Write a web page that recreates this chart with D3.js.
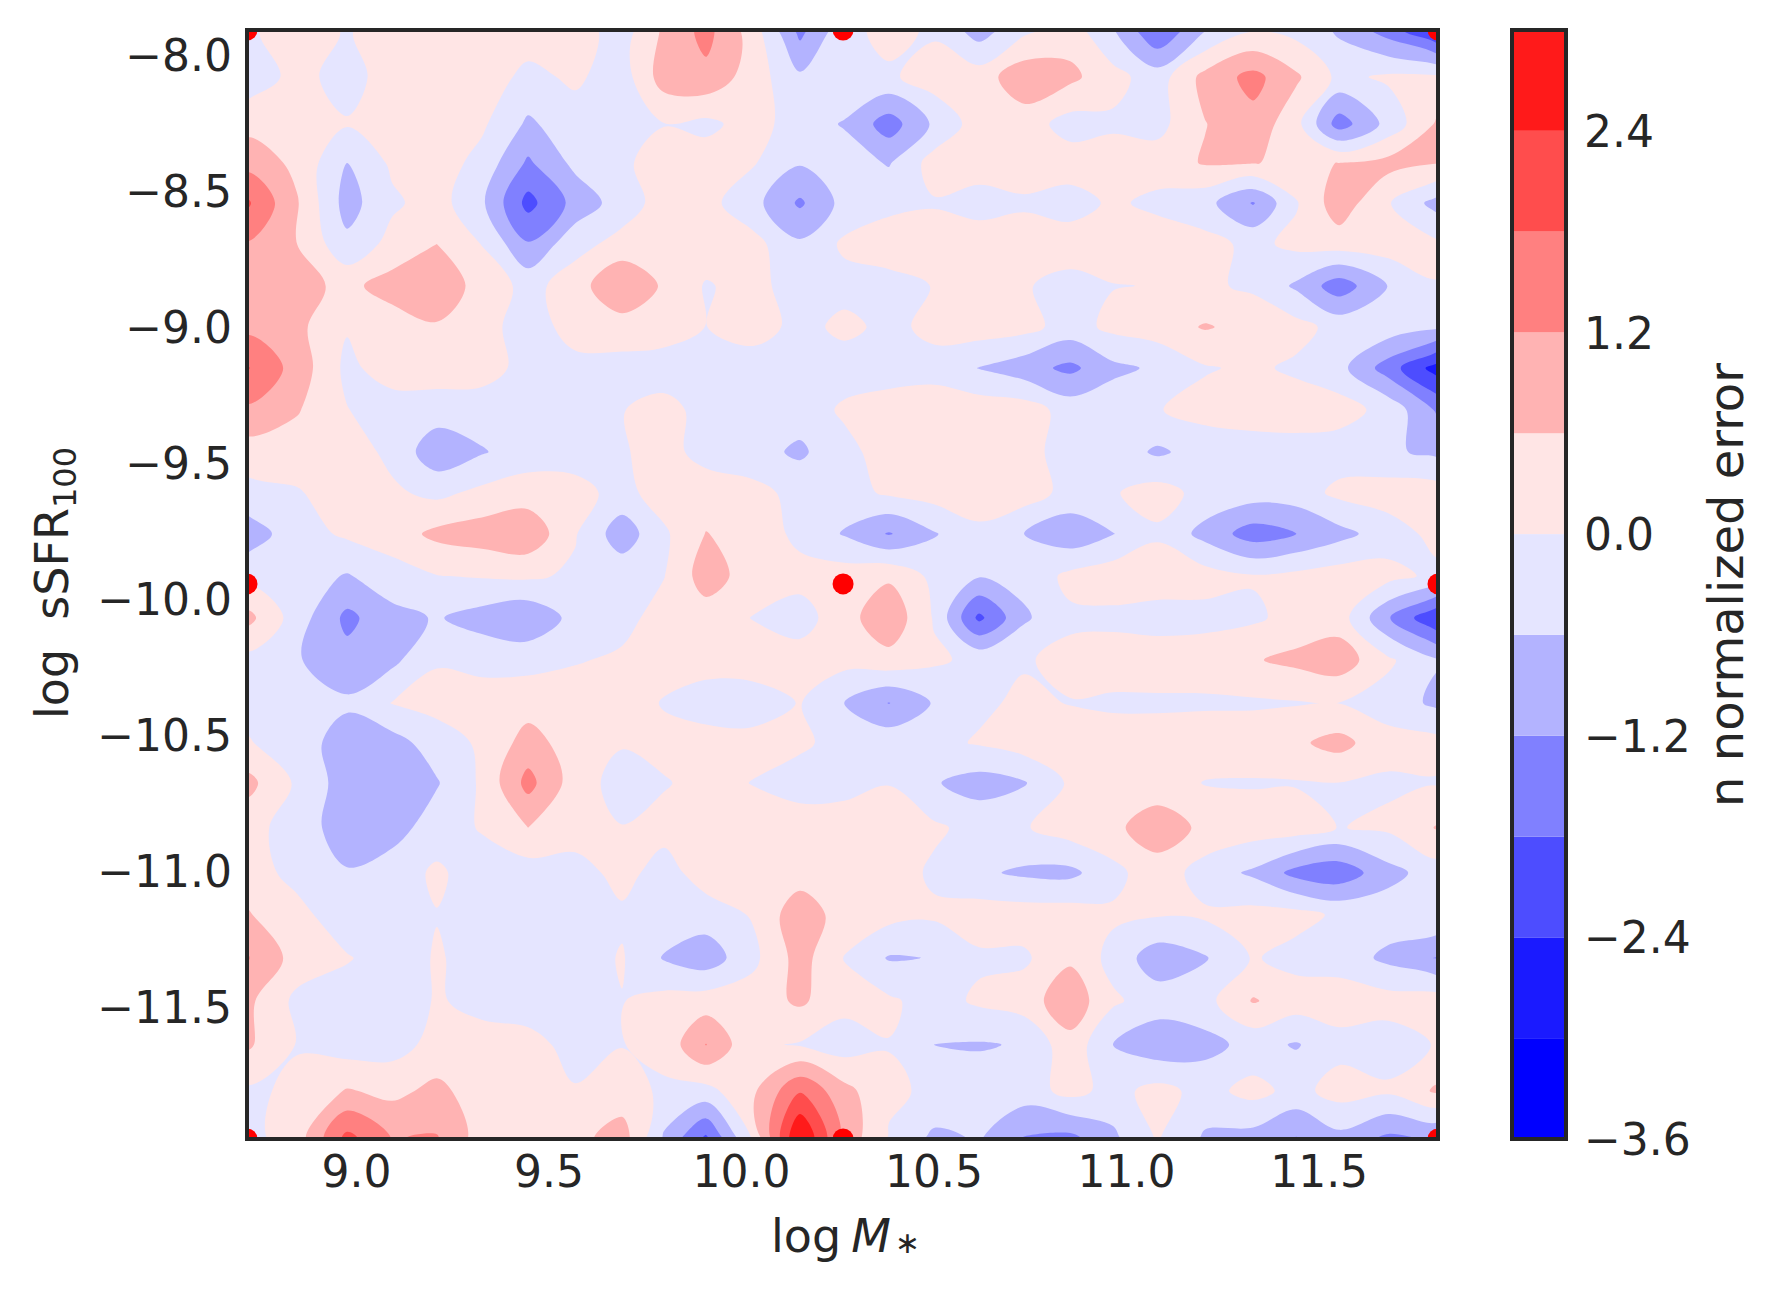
<!DOCTYPE html>
<html>
<head>
<meta charset="utf-8">
<script src="https://cdnjs.cloudflare.com/ajax/libs/d3/7.8.5/d3.min.js"></script>
<style>
  body { margin: 0; background: #fff; }
  text { font-family: "DejaVu Sans", sans-serif; fill: #262626; }
</style>
</head>
<body>
<svg id="chart" width="1782" height="1294"></svg>
<script>
// Grid positions
const massGrid = [8.717, 8.847, 8.977, 9.094, 9.210, 9.327, 9.447, 9.569, 9.691, 9.800, 9.909, 10.031, 10.153, 10.268,
    10.384, 10.501, 10.618, 10.735, 10.855, 10.966, 11.081, 11.205, 11.330, 11.442, 11.553, 11.681, 11.810];
const ssfrGrid = [-7.9025, -8.075, -8.248, -8.392, -8.539, -8.690, -8.844, -8.995, -9.146, -9.300, -9.455, -9.605, -9.756,
    -9.911, -10.065, -10.220, -10.378, -10.525, -10.672, -10.837, -11.003, -11.157, -11.316, -11.474, -11.635, -11.805, -11.982];

// n normalized error, one row per ssfrGrid entry, one value per massGrid entry
const errorGrid = [
    [-0.1,0.3,-0.05,0.3,0.3,0.3,0.3,0.3,-0.3, 0.7,1.4,0.3,-1.4,-0.2,0.2,-0.1,-0.9,-0.15, 0.3,-0.55,-1.8,-0.65,-0.05,-0.2,-0.7,-1.5,-2.6],
    [-0.4,0.2,-0.25,0.3,0.35,0.3,-0.15,0.1,-0.3, 0.9,1.05,0.3,-0.5,-0.1,-0.1,0.3,0.3,1.0, 0.75,0.2,-0.3,0.8,1.4,0.7,-0.15,0.1,0.1],
    [0.4,0.3,0.05,0.3,0.3,0.1,-0.7,-0.25,-0.1, -0.02,-0.15,0.25,-0.3,-0.65,-1.5,-0.5,0.3,0.3, -0.25,-0.1,-0.2,0.58,1.0,0.2,-1.5,-0.4,0.7],
    [1.0,0.45,-0.6,0.1,0.3,-0.2,-1.3,-0.45,-0.1, 0.25,0.3,0.05,-0.55,-0.3,-0.65,0.25,0.3,0.35, 0.3,0.3,0.3,0.65,0.62,0.5,0.61,0.8,0.62],
    [1.9,0.65,-0.85,-0.1,0.25,-0.5,-2.0,-1.0,-0.3, 0.25,0.2,-0.4,-1.3,-0.4,-0.15,-0.05,-0.25,-0.1, -0.25,0.1,-0.15,-0.4,-1.25,-0.05,0.95,0.05,-0.85],
    [1.15,0.6,-0.45,0.2,0.6,-0.02,-1.15,-0.2,0.2, 0.3,0.3,0.2,-0.5,0.1,0.3,0.3,0.35,0.35, 0.3,0.3,0.35,0.2,-0.15,0.15,0.3,0.3,0.1],
    [1.1,0.8,0.45,0.85,0.95,0.4,-0.2,0.3,1.2, 0.5,-0.05,0.2,-0.3,-0.2,-0.2,0.02,0.2,0.05, -0.2,-0.02,0.02,0.1,-0.1,-0.7,-1.55,-0.58,-0.02],
    [1.05,0.75,0.05,0.3,0.55,0.2,-0.25,0.2,0.3, 0.3,-0.01,0.3,-0.2,0.15,-0.15,0.15,0.3,0.2, -0.25,0.15,0.3,0.65,0.4,0.2,-0.2,-0.25,-0.5],
    [1.85,0.95,-0.15,0.3,0.3,0.25,-0.2,-0.15,-0.2, -0.3,-0.3,-0.35,-0.3,-0.3,-0.25,-0.2,-0.62,-0.95, -1.35,-0.75,-0.5,-0.05,0.1,-0.1,-0.4,-1.5,-2.7],
    [1.1,0.65,0.02,-0.3,-0.3,-0.3,-0.35,-0.1,-0.02, 0.2,-0.2,-0.3,-0.35,0.1,0.25,0.3,0.35,0.3, -0.25,-0.2,-0.03,0.2,0.3,0.3,0.25,-0.2,-1.3],
    [0.3,0.3,0.3,-0.15,-1.0,-0.65,-0.3,-0.25,-0.05, 0.2,-0.2,-0.4,-0.7,-0.2,0.3,0.3,0.3,0.2, -0.25,-0.25,-0.7,-0.35,-0.3,-0.25,-0.3,-0.5,-0.75],
    [-0.2,-0.05,0.3,0.1,-0.15,0.15,0.3,0.2,-0.2, 0.3,0.3,0.2,-0.2,-0.25,0.1,0.25,0.35,0.3, -0.2,-0.05,0.25,-0.2,-0.3,-0.3,0.15,0.3,0.3],
    [-0.95,-0.25,0.1,0.3,0.75,0.9,1.05,0.05,-0.95, -0.1,0.62,0.35,-0.15,-0.65,-1.25,-0.65,-0.15,-0.6, -1.0,-0.62,-0.1,-0.8,-1.5,-1.2,-0.8,-0.3,0.2],
    [-0.2,-0.3,-0.65,-0.25,-0.02,0.05,0.1,-0.1,-0.2, -0.02,0.9,0.3,0.2,0.3,0.5,-0.15,-0.55,-0.4, 0.15,0.35,0.4,0.25,0.05,0.15,0.3,0.2,-0.15],
    [0.8,-0.3,-1.35,-0.8,-0.55,-0.85,-1.1,-0.4,-0.2, 0.25,0.3,-0.02,-0.25,0.35,1.05,-0.05,-1.95,-0.7, -0.1,-0.15,-0.3,-0.2,-0.1,0.2,0.3,-1.15,-2.4],
    [-0.2,-0.55,-1.0,-0.75,-0.05,-0.2,-0.2,-0.05,0.1, 0.3,0.3,0.3,0.25,0.2,0.4,0.1,-0.15,-0.05, 0.15,0.3,0.4,0.35,0.55,0.75,0.95,0.1,-0.55],
    [-0.2,-0.4,-0.5,0.02,0.2,0.3,0.35,0.35,0.35, -0.05,-0.35,-0.3,0.03,-0.6,-1.22,-0.55,-0.1,0.1, -0.02,-0.1,-0.12,-0.1,-0.08,-0.04,-0.01,-0.25,-0.75],
    [0.05,-0.3,-0.9,-0.85,-0.3,0.1,0.85,0.3,0.05, 0.2,0.3,0.2,0.1,-0.2,-0.2,-0.15,0.05,0.3, 0.3,0.3,0.35,0.4,0.35,0.5,0.8,0.2,0.2],
    [0.8,-0.1,-0.9,-0.95,-0.65,0.1,1.4,0.3,-0.25, -0.05,0.2,-0.02,-0.25,-0.2,-0.02,-0.55,-0.85,-0.65, 0.1,0.3,0.35,-0.03,-0.05,-0.04,-0.01,-0.08,-0.05],
    [0.2,-0.25,-0.95,-0.85,-0.3,0.05,0.6,0.3,0.02, 0.2,0.3,0.3,0.3,0.3,0.3,0.1,-0.2,-0.05, 0.3,0.5,0.85,0.5,0.3,0.3,-0.02,0.1,0.65],
    [0.3,-0.2,-0.55,-0.3,0.1,-0.3,-0.3,-0.25,0.2, -0.25,0.3,0.3,0.3,0.3,0.3,-0.1,-0.5,-0.7, -0.75,-0.2,0.4,-0.3,-0.7,-1.4,-1.6,-0.8,-0.3],
    [0.65,0.2,-0.4,-0.3,-0.02,-0.3,-0.35,-0.3,-0.1, -0.2,-0.3,0.05,1.0,0.3,0.2,0.1,0.3,0.3, 0.3,0.1,0.05,0.1,0.2,0.2,-0.1,-0.25,-0.05],
    [1.25,0.35,0.05,-0.3,0.05,-0.2,-0.3,-0.3,0.05, -0.65,-0.95,-0.15,0.85,-0.02,-0.65,-0.58,-0.1,-0.1, 0.5,-0.2,-0.95,-0.65,0.05,-0.2,-0.25,-0.75,-1.25],
    [0.75,-0.15,-0.3,-0.35,0.05,-0.15,-0.15,-0.3,-0.02, 0.2,0.3,0.3,0.7,0.2,0.1,-0.25,0.1,0.3, 1.0,0.1,-0.3,-0.2,0.65,0.3,0.3,0.25,0.3],
    [0.7,-0.03,-0.3,-0.25,0.2,0.2,0.1,-0.1,-0.02, 0.2,1.22,0.1,-0.05,-0.3,-0.02,-0.6,-0.65,-0.55, 0.4,-0.6,-1.0,-0.8,-0.4,-0.65,-0.2,-0.3,0.05],
    [-0.1,0.1,0.65,0.45,0.75,0.3,0.25,0.02,0.25, -0.1,-0.2,0.5,1.75,0.8,0.1,-0.1,-0.3,-0.3, 0.2,-0.2,0.2,-0.2,0.2,-0.2,0.25,0.1,0.7],
    [-0.2,0.3,2.0,1.18,1.25,0.3,0.3,0.4,0.9, -0.7,-1.95,0.05,3.1,1.0,-0.05,-0.75,-0.55,-1.25, -1.4,-0.75,0.05,-0.7,-0.85,-1.25,-0.8,-1.35,-1.3]
];

// Contour levels and the colour of the band above each one
const levels = [-3.6, -3.0, -2.4, -1.8, -1.2, -0.6, 0, 0.6, 1.2, 1.8, 2.4];
const levelTop = 3.0;
const bandColors = ['#0000ff', '#1a1aff', '#4d4dff', '#8080ff', '#b3b3ff', '#e5e5ff',
    '#ffe5e5', '#ffb3b3', '#ff8080', '#ff4d4d', '#ff1a1a'];

// Red markers
const markerMass = [8.717, 10.265, 11.810];
const markerSsfr = [-7.9025, -9.940, -11.982];

const massTicks = [9.0, 9.5, 10.0, 10.5, 11.0, 11.5];
const ssfrTicks = [-8.0, -8.5, -9.0, -9.5, -10.0, -10.5, -11.0, -11.5];
const colorTicks = [-3.6, -2.4, -1.2, 0.0, 1.2, 2.4];

const axisColor = '#262626';
const plot = {left: 247, right: 1438, top: 30, bottom: 1139};
const bar = {left: 1512, right: 1566};

var svg = d3.select('#chart');

var x = d3.scaleLinear().domain([massGrid[0], massGrid[massGrid.length - 1]]).range([plot.left, plot.right]);
var y = d3.scaleLinear().domain([ssfrGrid[0], ssfrGrid[ssfrGrid.length - 1]]).range([plot.top, plot.bottom]);
var c = d3.scaleLinear().domain([levels[0], levelTop]).range([plot.bottom, plot.top]);

svg.append('clipPath').attr('id', 'plot-clip')
    .append('rect')
    .attr('x', plot.left).attr('y', plot.top)
    .attr('width', plot.right - plot.left).attr('height', plot.bottom - plot.top);

// d3.contours works in grid index space, where value i sits at i + 0.5
var massOfIndex = d3.scaleLinear().domain(massGrid.map((d, i) => i + 0.5)).range(massGrid);
var ssfrOfIndex = d3.scaleLinear().domain(ssfrGrid.map((d, i) => i + 0.5)).range(ssfrGrid);

var contours = d3.contours()
    .size([massGrid.length, ssfrGrid.length])
    .thresholds(levels)(errorGrid.flat());

// Round the rings off, the outer edge falls outside the clip
var ringLine = d3.line()
    .x(function(p) { return x(massOfIndex(p[0])); })
    .y(function(p) { return y(ssfrOfIndex(p[1])); })
    .curve(d3.curveCatmullRomClosed.alpha(0.5));

function contourPath(d) {
    return d.coordinates.map(function(polygon) {
        return polygon.map(function(ring) { return ringLine(ring.slice(0, -1)); }).join('');
    }).join('');
}

var field = svg.append('g').attr('clip-path', 'url(#plot-clip)');

// Each contour covers everything above its level, so lower ones get painted over
field.selectAll('path')
    .data(contours)
    .enter().append('path')
    .attr('d', contourPath)
    .attr('fill', function(d, i) { return bandColors[i]; });

var markers = d3.cross(markerMass, markerSsfr);
field.selectAll('circle')
    .data(markers)
    .enter().append('circle')
    .attr('cx', function(d) { return x(d[0]); })
    .attr('cy', function(d) { return y(d[1]); })
    .attr('r', 10.5)
    .attr('fill', '#ff0000');

// Frame
svg.append('rect')
    .attr('x', plot.left).attr('y', plot.top)
    .attr('width', plot.right - plot.left).attr('height', plot.bottom - plot.top)
    .attr('fill', 'none').attr('stroke', axisColor).attr('stroke-width', 4);

// Axes
const tickFont = 44;
const labelFont = 46;

function styleAxis(g) {
    g.select('.domain').remove();
    g.selectAll('text').style('font-size', tickFont + 'px').attr('fill', axisColor);
}

svg.append('g')
    .attr('transform', 'translate(0,' + plot.bottom + ')')
    .call(d3.axisBottom(x).tickValues(massTicks).tickFormat(d3.format('.1f')).tickSize(0).tickPadding(17))
    .call(styleAxis);

svg.append('g')
    .attr('transform', 'translate(' + plot.left + ',0)')
    .call(d3.axisLeft(y).tickValues(ssfrTicks).tickFormat(d3.format('.1f')).tickSize(0).tickPadding(15))
    .call(styleAxis);

// Colour bar
svg.append('g').selectAll('rect')
    .data(levels)
    .enter().append('rect')
    .attr('x', bar.left)
    .attr('width', bar.right - bar.left)
    .attr('y', function(d, i) { return c(i + 1 < levels.length ? levels[i + 1] : levelTop); })
    .attr('height', function(d, i) { return c(d) - c(i + 1 < levels.length ? levels[i + 1] : levelTop); })
    .attr('fill', function(d, i) { return bandColors[i]; });

svg.append('rect')
    .attr('x', bar.left).attr('y', plot.top)
    .attr('width', bar.right - bar.left).attr('height', plot.bottom - plot.top)
    .attr('fill', 'none').attr('stroke', axisColor).attr('stroke-width', 4);

svg.append('g')
    .attr('transform', 'translate(' + bar.right + ',0)')
    .call(d3.axisRight(c).tickValues(colorTicks).tickFormat(d3.format('.1f')).tickSize(0).tickPadding(18))
    .call(styleAxis)
    .call(function(g) { g.selectAll('text').attr('dy', '0.355em'); });

// Labels
var xLabel = svg.append('text')
    .attr('x', 771).attr('y', 1252)
    .style('font-size', labelFont + 'px');
xLabel.append('tspan').text('log');
xLabel.append('tspan').attr('dx', 10).style('font-style', 'italic').text('M');
xLabel.append('tspan').attr('dy', 1).attr('dx', 4).style('font-size', '30px').text('\u2217');

var yLabel = svg.append('text')
    .attr('transform', 'translate(68,583) rotate(-90)')
    .attr('text-anchor', 'middle')
    .style('font-size', labelFont + 'px')
    .style('white-space', 'pre');
yLabel.append('tspan').text('log  sSFR');
yLabel.append('tspan').attr('dy', 8).style('font-size', '32px').text('100');

svg.append('text')
    .attr('transform', 'translate(1743,585) rotate(-90)')
    .attr('text-anchor', 'middle')
    .style('font-size', '48px')
    .text('n normalized error');
</script>
</body>
</html>
